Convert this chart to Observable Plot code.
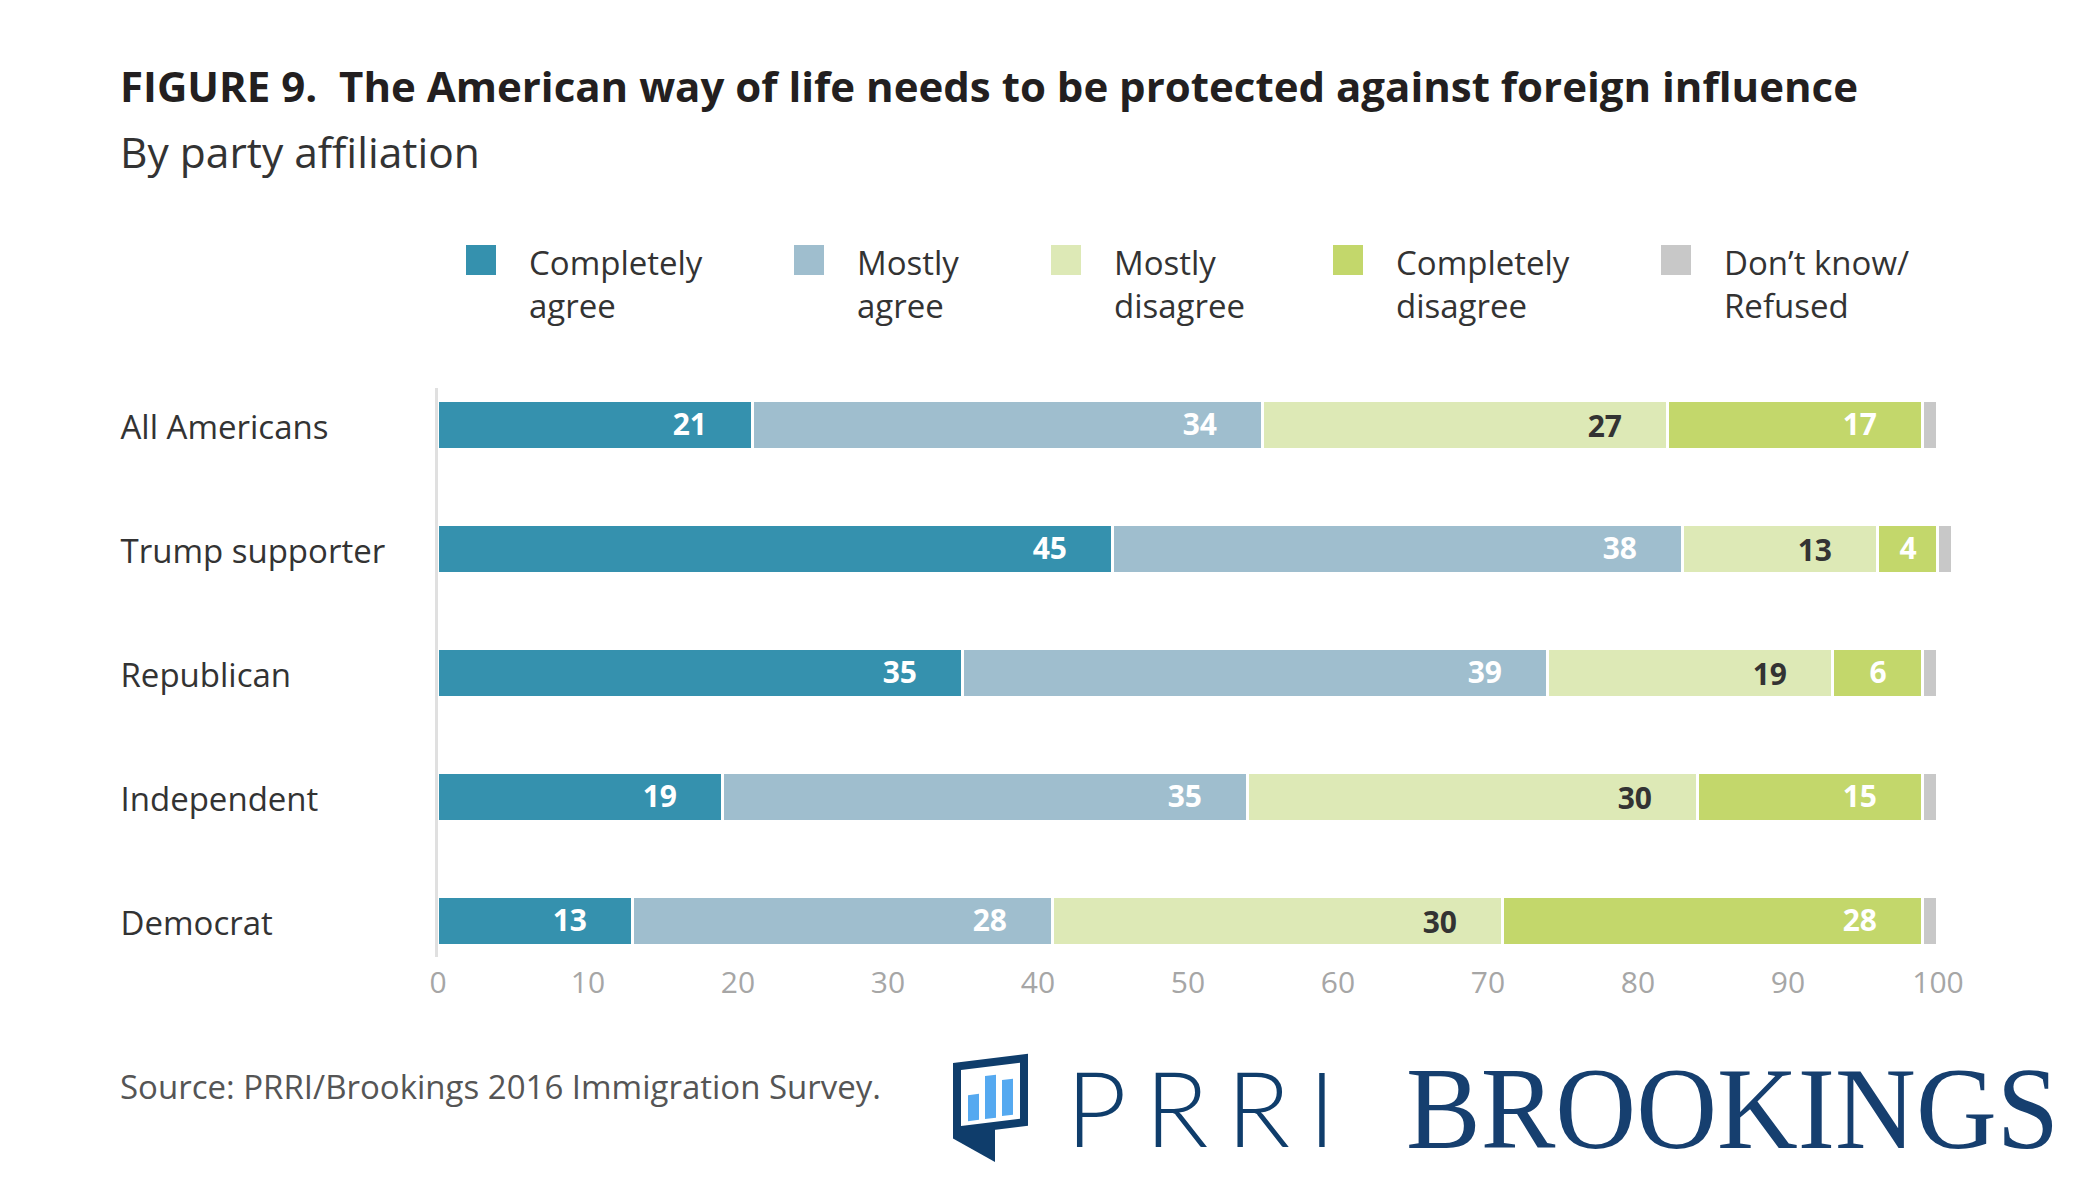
<!DOCTYPE html>
<html>
<head>
<meta charset="utf-8">
<script src="https://cdn.jsdelivr.net/npm/d3@7"></script>
<script src="https://cdn.jsdelivr.net/npm/@observablehq/plot@0.6"></script>
<style>
  html, body { margin: 0; padding: 0; background: #ffffff; }
  #page { position: relative; width: 2100px; height: 1196px; overflow: hidden; font-family: "Open Sans", sans-serif; background: #fff; }
  .abs { position: absolute; white-space: nowrap; }
  #title { left: 120px; top: 65px; font-size: 42px; line-height: 42px; font-weight: 700; color: #231f20; }
  #subtitle { left: 120px; top: 131px; font-size: 42.5px; line-height: 42px; color: #333; }
  .sw { position: absolute; width: 30px; height: 30px; top: 245px; }
  .lt { position: absolute; top: 241px; font-size: 33px; line-height: 43px; color: #333; white-space: nowrap; }
  #chart { position: absolute; left: 0; top: 360px; }
  #source { left: 120px; top: 1070px; font-size: 33px; line-height: 33px; color: #555; }
  #prri { left: 1066px; top: 1054px; font-family: Lato, Roboto, sans-serif; font-weight: 300; font-size: 105px; line-height: 105px; color: #0f3d6b; letter-spacing: 18px; }
  #brookings { left: 1406px; top: 1051px; font-family: "Liberation Serif", "DejaVu Serif", serif; font-size: 116px; line-height: 116px; color: #163f6f; transform: scaleX(0.965); transform-origin: left top; }
  #iconFrame { left: 953px; top: 1063px; width: 59px; height: 56px; border: 8px solid #0f3d6b; transform: skewY(-7deg); transform-origin: left top; }
  .ibar { position: absolute; background: #55a9f0; width: 11px; }
  #iconTail { left: 953px; top: 1126px; width: 42px; height: 36px; background: #0f3d6b; clip-path: polygon(0 0, 100% 0, 100% 100%, 0 35%); }
</style>
</head>
<body>
<div id="page">
  <div id="title" class="abs">FIGURE 9.&nbsp; The American way of life needs to be protected against foreign influence</div>
  <div id="subtitle" class="abs">By party affiliation</div>
  <div id="legend"></div>
  <div id="chart"></div>
  <div id="source" class="abs">Source: PRRI/Brookings 2016 Immigration Survey.</div>
  <div id="iconFrame" class="abs">
    <div class="ibar" style="left:7px; top:26px; height:26px;"></div>
    <div class="ibar" style="left:24px; top:9px; height:43px;"></div>
    <div class="ibar" style="left:41px; top:15px; height:36px;"></div>
  </div>
  <div id="iconTail" class="abs"></div>
  <div id="prri" class="abs">PRRI</div>
  <div id="brookings" class="abs">BROOKINGS</div>
</div>
<script>
// ---- Data ----
const groups = ["All Americans", "Trump supporter", "Republican", "Independent", "Democrat"];
const responses = ["Completely agree", "Mostly agree", "Mostly disagree", "Completely disagree", "Don't know/Refused"];
const legendLines = [["Completely", "agree"], ["Mostly", "agree"], ["Mostly", "disagree"], ["Completely", "disagree"], ["Don’t know/", "Refused"]];
const completelyAgree    = [21, 45, 35, 19, 13];
const mostlyAgree        = [34, 38, 39, 35, 28];
const mostlyDisagree     = [27, 13, 19, 30, 30];
const completelyDisagree = [17, 4, 6, 15, 28];
const dontKnow           = [1, 1, 1, 1, 1];
const xTicks = [0, 10, 20, 30, 40, 50, 60, 70, 80, 90, 100];
const colors = ["#3591ae", "#9fbece", "#dde9b6", "#c3d76b", "#c8c8c8"];

const series = [completelyAgree, mostlyAgree, mostlyDisagree, completelyDisagree, dontKnow];
const data = groups.flatMap((g, i) => series.map((s, j) => ({group: g, response: responses[j], value: s[i]})));

// ---- Legend ----
const legendSwatchX = [466, 794, 1051, 1333, 1661];
const legend = document.getElementById("legend");
responses.forEach((r, i) => {
  const sw = document.createElement("div");
  sw.className = "sw";
  sw.style.left = legendSwatchX[i] + "px";
  sw.style.background = colors[i];
  legend.appendChild(sw);
  const t = document.createElement("div");
  t.className = "lt";
  t.style.left = (legendSwatchX[i] + 63) + "px";
  t.innerHTML = legendLines[i].join("<br>");
  legend.appendChild(t);
});

// ---- Chart ----
const DK = responses[4];
const MD = responses[2];
const isWhiteBig = d => d.value >= 10 && d.response !== MD && d.response !== DK;
const isDarkBig = d => d.value >= 10 && d.response === MD;
const isSmall = d => d.value < 10 && d.response !== DK;

const chart = Plot.plot({
  width: 2100,
  height: 660,
  marginLeft: 437.5,
  marginRight: 162.5,
  marginTop: 28,
  marginBottom: 63,
  x: {domain: [0, 100], axis: null},
  y: {domain: groups, axis: null, paddingInner: 0.63, paddingOuter: 0.1},
  color: {domain: responses, range: colors},
  style: {fontFamily: "'Open Sans', sans-serif", background: "white", overflow: "visible"},
  marks: [
    Plot.ruleX([0], {stroke: "#e0e0e0", strokeWidth: 3, dx: -1.5}),
    Plot.barX(data, Plot.stackX({x: "value", y: "group", fill: "response", insetLeft: 1.5, insetRight: 1.5})),
    Plot.text(data, Plot.stackX2({x: "value", y: "group", z: "response",
      text: d => isWhiteBig(d) ? String(d.value) : null,
      fill: "white", fontWeight: 700, fontSize: 30, textAnchor: "end", dx: -46})),
    Plot.text(data, Plot.stackX2({x: "value", y: "group", z: "response",
      text: d => isDarkBig(d) ? String(d.value) : null,
      fill: "#333333", fontWeight: 700, fontSize: 30, textAnchor: "end", dx: -46, dy: 2})),
    Plot.text(data, Plot.stackX({x: "value", y: "group", z: "response",
      text: d => isSmall(d) ? String(d.value) : null,
      fill: "white", fontWeight: 700, fontSize: 30})),
    Plot.text(groups, {y: d => d, frameAnchor: "left", dx: -317.5, dy: 2.5, textAnchor: "start", fontSize: 33, fill: "#333333"}),
    Plot.text(xTicks, {x: d => d, frameAnchor: "bottom", dy: 35, fontSize: 30, fill: "#a6a6a6"})
  ]
});
document.getElementById("chart").appendChild(chart);
</script>
</body>
</html>
